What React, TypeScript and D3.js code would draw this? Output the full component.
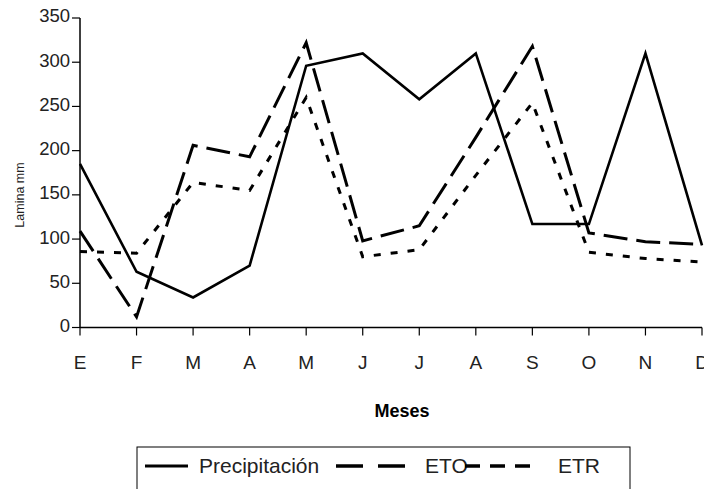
import React from "react";
import * as d3 from "d3";

const months = ["E", "F", "M", "A", "M", "J", "J", "A", "S", "O", "N", "D"];
const precipitacion = [185, 63, 34, 70, 296, 310, 258, 310, 117, 117, 310, 93];
const eto = [109, 12, 206, 193, 322, 98, 115, 215, 318, 107, 97, 94];
const etr = [86, 84, 164, 155, 260, 80, 88, 172, 254, 85, 78, 74];
const yTicks = [0, 50, 100, 150, 200, 250, 300, 350];

const W = 704;
const H = 489;
const x0 = 80;
const x1 = 702;
const yTop = 18;
const yBottom = 327.5;

export default function App() {
  const x = d3.scalePoint<number>().domain(d3.range(months.length)).range([x0, x1]);
  const y = d3.scaleLinear().domain([0, 350]).range([yBottom, yTop]);
  const line = d3
    .line<number>()
    .x((_, i) => x(i) as number)
    .y((d) => y(d));
  const font = "'Liberation Sans', Arial, sans-serif";
  const series = [
    { data: precipitacion, dash: "none", w: 2.6 },
    { data: eto, dash: "24,9", w: 3 },
    { data: etr, dash: "7,10", w: 3 },
  ];
  return (
    <svg
      width={W}
      height={H}
      style={{ position: "absolute", left: 0, top: 0, background: "#fff" }}
      fontFamily={font}
    >
      {/* y axis */}
      <line x1={x0} x2={x0} y1={yTop} y2={yBottom} stroke="#000" strokeWidth={1.5} />
      {yTicks.map((t) => (
        <g key={t}>
          <line x1={x0 - 8} x2={x0} y1={y(t)} y2={y(t)} stroke="#000" strokeWidth={1.2} />
          <text x={x0 - 10} y={y(t) - 2} dy="0.35em" textAnchor="end" fontSize={18.5} fill="#222">
            {t}
          </text>
        </g>
      ))}
      {/* x axis */}
      <line x1={x0} x2={x1} y1={yBottom} y2={yBottom} stroke="#000" strokeWidth={1.5} />
      {months.map((m, i) => (
        <g key={i}>
          <line
            x1={x(i)}
            x2={x(i)}
            y1={yBottom}
            y2={yBottom + 8}
            stroke="#000"
            strokeWidth={1.2}
          />
          <text x={x(i)} y={369} textAnchor="middle" fontSize={19} fill="#222">
            {m}
          </text>
        </g>
      ))}
      <text
        transform={`translate(24,195) rotate(-90)`}
        textAnchor="middle"
        fontSize={12.5}
        fill="#222"
      >
        Lamina mm
      </text>
      <text x={402} y={417} textAnchor="middle" fontSize={18} fontWeight="bold" fill="#000">
        Meses
      </text>
      {/* lines */}
      {series.map((s, i) => (
        <path
          key={i}
          d={line(s.data) as string}
          fill="none"
          stroke="#000"
          strokeWidth={s.w}
          strokeDasharray={s.dash}
          strokeLinejoin="miter"
        />
      ))}
      {/* legend */}
      <rect x={137} y={447} width={493} height={50} fill="none" stroke="#000" strokeWidth={1} />
      <line x1={145} x2={188} y1={466} y2={466} stroke="#000" strokeWidth={3} />
      <text x={199} y={473} fontSize={21} fill="#222">
        Precipitación
      </text>
      <line x1={336} x2={405} y1={466} y2={466} stroke="#000" strokeWidth={3.5} strokeDasharray="27,15" />
      <text x={425} y={473} fontSize={21} fill="#222">
        ETO
      </text>
      <line x1={465} x2={540} y1={466} y2={466} stroke="#000" strokeWidth={3.5} strokeDasharray="15,10" />
      <text x={558} y={473} fontSize={21} fill="#222">
        ETR
      </text>
    </svg>
  );
}
